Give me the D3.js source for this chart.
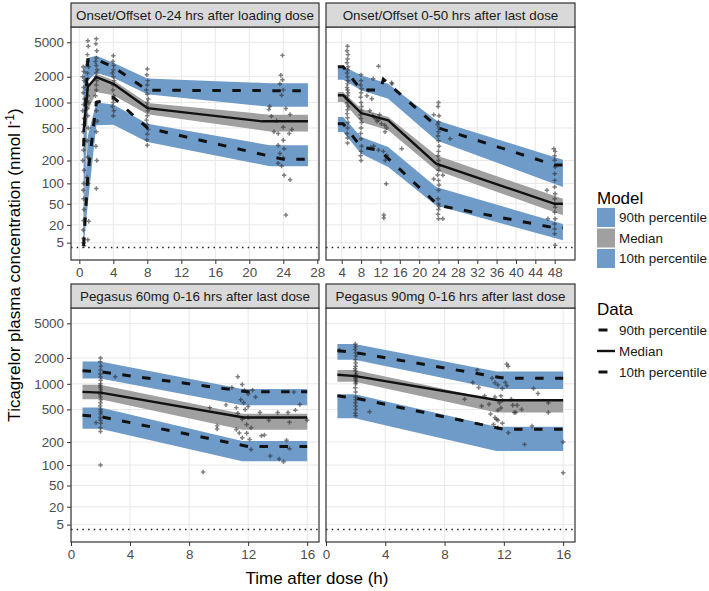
<!DOCTYPE html>
<html><head><meta charset="utf-8">
<script src="https://cdn.jsdelivr.net/npm/d3@7"></script>
<style>
body{margin:0;background:#fff;}
svg{display:block;font-family:"Liberation Sans",Arial,sans-serif;}
</style>
</head><body>
<svg id="chart" width="709" height="591"></svg>
<script>
// ---------------- DATA ----------------
const panelTitles = [
  "Onset/Offset 0-24 hrs after loading dose",
  "Onset/Offset 0-50 hrs after last dose",
  "Pegasus 60mg 0-16 hrs after last dose",
  "Pegasus 90mg 0-16 hrs after last dose"
];
const yTicks = [5, 20, 50, 100, 200, 500, 1000, 2000, 5000];
const xTicksTL = [0, 4, 8, 12, 16, 20, 24, 28];
const xTicksTR = [4, 8, 12, 16, 20, 24, 28, 32, 36, 40, 44, 48];
const xTicksBottom = [0, 4, 8, 12, 16];
const lloq = 2;
const modelLegend = ["90th percentile", "Median", "10th percentile"];
const dataLegend = ["90th percentile", "Median", "10th percentile"];

// Panel 1: loading dose
const tlModelTime = [0.5, 1, 2, 4, 8, 22.4, 26.9];
const tlP90Lo = [5, 1800, 2200, 1950, 1250, 890, 890];
const tlP90Hi = [2500, 3300, 3500, 2900, 1900, 1680, 1680];
const tlMedLo = [3, 800, 1330, 1215, 730, 455, 455];
const tlMedHi = [40, 1500, 2170, 1815, 990, 720, 720];
const tlP10Lo = [2, 50, 540, 545, 339, 169, 169];
const tlP10Hi = [20, 400, 1000, 950, 562, 309, 309];
const tlObsP90Time = [0.5, 1, 2, 4, 8, 24, 26.9];
const tlObsP90 = [300, 3150, 3150, 2600, 1390, 1375, 1375];
const tlObsMedTime = [0.5, 1, 2, 4, 8, 21.5, 26.9];
const tlObsMed = [450, 1530, 1980, 1650, 860, 600, 600];
const tlObsP10Time = [0.5, 1, 2, 4, 8, 24, 26.9];
const tlObsP10 = [3, 130, 1000, 1150, 500, 207, 207];
const tlPoints = [
  [0.45,2600],[0.5,2300],[0.4,2000],[0.55,1800],[0.5,1500],[0.45,1300],[0.6,1100],[0.5,950],[0.4,800],[0.55,650],
  [0.5,550],[0.45,450],[0.6,350],[0.5,270],[0.4,200],[0.55,150],[0.5,100],[0.45,80],[0.5,60],[0.55,40],
  [0.5,25],[0.45,15],[0.5,8],[0.5,5],[0.55,3],
  [1.0,5200],[1.05,4500],[0.95,3600],[1.0,3000],[1.1,2600],[0.95,2200],[1.0,1900],[1.05,1600],[0.9,1400],[1.0,1200],
  [1.1,1000],[0.95,850],[1.0,700],[1.05,500],[0.95,350],[1.0,220],[0.9,120],[1.05,100],[1.1,24],[1.0,7],
  [2.0,5500],[1.95,4800],[2.05,4000],[2.0,3300],[1.9,3000],[2.0,2700],[2.1,2400],[2.0,2200],[1.95,2000],[2.05,1800],
  [2.0,1600],[2.0,1400],[1.9,1200],[2.05,1000],[2.0,800],[2.1,600],[2.0,450],[1.95,300],[2.05,200],[2.0,85],
  [4.0,3500],[3.95,3000],[4.05,2700],[4.0,2400],[3.9,2200],[4.0,2000],[4.1,1800],[4.0,1600],[3.95,1400],[4.05,1200],
  [4.0,1100],[4.0,1000],[3.9,900],[4.05,800],[4.0,700],
  [8.0,2450],[7.95,2100],[8.05,1800],[8.0,1600],[7.9,1400],[8.0,1250],[8.1,1100],[8.0,1000],[7.95,900],[8.05,800],
  [8.0,700],[7.9,620],[8.0,550],[8.1,480],[8.0,420],[7.95,360],[8.0,310],
  [23.9,3530],[23.7,2075],[23.9,1845],[23.6,1657],[24.0,1400],[23.8,1215],[22.4,900],[22.3,830],[22.6,690],[24.3,850],
  [24.8,725],[23.2,610],[24.0,510],[22.9,450],[23.4,430],[24.7,430],[24.0,355],[23.4,309],[24.1,281],[23.6,245],
  [24.0,215],[23.4,185],[23.8,170],[24.1,129],[24.8,112],[24.3,32],[25.0,480]
];

// Panel 2: last dose 0-50 h
const trModelTime = [3.2, 4.3, 8, 13.6, 23.5, 49.7];
const trP90Lo = [1845, 1845, 1390, 1108, 355, 89];
const trP90Hi = [2640, 2640, 2075, 1657, 617, 205];
const trMedLo = [1014, 1014, 590, 469, 150, 31.6];
const trMedHi = [1327, 1327, 845, 675, 232, 60];
const trP10Lo = [448, 448, 243, 165, 47, 6.6];
const trP10Hi = [675, 675, 390, 294, 89, 21];
const trObsP90Time = [3.2, 4.3, 8, 12, 12.6, 24, 48, 49.7];
const trObsP90 = [2600, 2600, 1400, 1400, 1870, 500, 175, 175];
const trObsMedTime = [3.2, 4.3, 8, 13.6, 23.5, 48, 49.7];
const trObsMed = [1215, 1215, 752, 617, 182, 50, 50];
const trObsP10Time = [3.2, 4.3, 8, 11.8, 24, 48, 49.7];
const trObsP10 = [562, 562, 294, 268, 47, 17, 17];
const trPoints = [
  [5.2,4500],[5.1,4000],[5.3,3600],[5.2,3200],[5.1,2900],[5.3,2600],[5.2,2400],[5.1,2200],[5.2,2000],[5.3,1800],
  [5.2,1650],[5.1,1500],[5.2,1400],[5.3,1300],[5.2,1200],[5.1,1100],[5.2,1000],[5.3,900],[5.2,820],[5.1,740],
  [5.2,660],[5.3,580],[5.2,500],[5.1,430],[5.2,380],[5.2,330],
  [8,2100],[8,1800],[7.9,1600],[8.1,1450],[8,1300],[7.9,1150],[8,1000],[8.1,900],[8,800],[7.9,720],
  [8,650],[8.1,580],[8,500],[7.9,430],[8,370],[8.1,300],[8,260],[7.9,230],[8,200],
  [10.5,1895],[11.6,2640],[9.5,1390],[10.2,1108],[9.2,1200],[9.8,800],[10.4,700],[10.9,650],[11.3,600],[11.8,720],
  [12.2,560],[11.6,617],[13.3,500],[12.9,540],[13.2,99],[12.7,32],[12.7,28],[14.3,1700],[14.4,1650],[16.4,281],
  [12.6,260],[13,201],[11.6,270],[13.3,232],[10,290],[10.6,300],[12.96,450],
  [24,1000],[23.9,900],[24.1,700],[24,590],[23.8,550],[24.1,500],[24,450],[23.9,400],[24,350],[24.1,300],
  [24,260],[23.9,230],[24,200],[24.1,170],[24,150],[23.8,130],[24,110],[24.1,95],[24,80],[23.9,60],
  [24,50],[24.1,45],[24,40],[23.9,33],[24,27],[23,720],[24.9,129],[23,115],[24.9,27],[26.4,371],
  [47.8,281],[48.1,260],[48,230],[48,201],[48.1,165],[48,135],[48,110],[48,89],[48.1,71],[48,60],
  [48,50],[48.1,44],[48,36],[48.1,27],[48,21],[48,16],[48,11.7],[48.1,3.3],[46.4,80],[46.6,27]
];

// Panel 3: Pegasus 60 mg
const blModelTime = [0.78, 1.98, 11.6, 16];
const blP90Lo = [1150, 1150, 561, 561];
const blP90Hi = [1820, 1820, 868, 868];
const blMedLo = [660, 660, 285, 285];
const blMedHi = [973, 973, 445, 445];
const blP10Lo = [293, 293, 113, 113];
const blP10Hi = [525, 525, 206, 206];
const blObsP90Time = [0.78, 2, 12, 16];
const blObsP90 = [1418, 1380, 806, 806];
const blObsMedTime = [0.78, 2, 11.7, 16];
const blObsMed = [806, 790, 400, 400];
const blObsP10Time = [0.78, 2, 12, 16];
const blObsP10 = [426, 410, 176, 176];
const blPoints = [
  [2,2000],[1.98,1800],[2.02,1600],[2,1450],[1.98,1300],[2,1200],[2.02,1100],[2,1000],[1.98,950],[2,900],
  [2.02,850],[2,800],[1.98,750],[2,700],[2.02,650],[2,600],[1.98,550],[2,500],[2.02,470],[2,440],
  [1.98,400],[2,370],[2.02,340],[2,300],[2,270],[2,100],[1.7,347],[3.0,1208],
  [8.95,80],[9.4,525],[9.9,317],[9.9,290],[10.5,566],[10.9,905],[11.3,1208],[11.6,984],[11.2,525],[11.2,287],
  [11.4,260],[11.6,227],[11.7,600],[11.75,840],[12,760],[12,540],[12.1,216],[12.2,161],[12.3,840],[12.5,700],
  [12.8,459],[12.9,240],[13.1,245],[13.4,370],[13.5,132],[14,460],[14.1,121],[14.4,111],[14.6,211],[14.7,460],
  [14.8,350],[14.8,165],[15.1,800],[15.2,490],[15.5,570],[16,370],[11.5,650],[11.8,500],[11.3,450],[12,400],
  [11.9,330],[12.2,300],[11.6,380],[11.9,257]
];

// Panel 4: Pegasus 90 mg
const brModelTime = [0.77, 1.94, 11.5, 16];
const brP90Lo = [1905, 1905, 868, 868];
const brP90Hi = [2893, 2893, 1393, 1393];
const brMedLo = [1055, 1055, 459, 459];
const brMedHi = [1445, 1445, 643, 643];
const brP10Lo = [392, 392, 154, 154];
const brP10Hi = [757, 757, 310, 310];
const brObsP90Time = [0.77, 2, 12, 16];
const brObsP90 = [2420, 2300, 1165, 1165];
const brObsMedTime = [0.77, 2, 11.6, 16];
const brObsMed = [1275, 1230, 643, 643];
const brObsP10Time = [0.77, 2, 12, 16];
const brObsP10 = [723, 680, 288, 288];
const brPoints = [
  [1.98,2900],[2,2700],[1.96,2500],[2,2300],[2.02,2100],[1.98,1900],[2,1750],[2,1600],[1.96,1500],[2,1400],
  [2.02,1300],[2,1250],[1.98,1200],[2,1150],[2,1100],[2.02,1050],[2,1000],[1.98,900],[2,800],[2,700],
  [2.02,650],[1.98,600],[2,550],[2,500],[1.98,450],[2,420],[0.9,2450],[2.94,470],
  [9.35,660],[9.9,1035],[10.2,1445],[10.3,905],[10.5,550],[10.7,723],[11,575],[11.1,440],[11.2,1160],[11.4,1030],
  [11.5,380],[11.6,370],[11.6,970],[11.7,600],[11.8,723],[11.8,520],[11.9,640],[11.9,880],[12.1,1035],[12.2,1700],
  [12.3,1600],[12.3,261],[12.2,950],[12.5,660],[12.6,560],[12.7,459],[12.8,459],[12.9,560],[13.2,500],[13.4,187],
  [13.9,316],[14,880],[14.3,770],[15,600],[15,460],[16,200],[16,78],[11.3,330],[11.6,300],[11.4,700],
  [11.4,400],[11.6,490],[11.9,340]
];

// ---------------- DRAWING ----------------
const svg = d3.select("#chart");
svg.append("rect").attr("width", 709).attr("height", 591).attr("fill", "#fff");
const defs = svg.append("defs");

const BLUE = "#6f9bc9", GREY = "#a0a0a0";
const yDomain = [-5.3, 7500];
const smallFont = 13.4, titleFont = 17;

const zipBand = (t, lo, hi) => t.map((d, i) => ({t: d, lo: lo[i], hi: hi[i]}));
const zipLine = (t, v) => t.map((d, i) => ({t: d, v: v[i]}));

const panels = [
  {title: panelTitles[0], x0: 71, x1: 319, hy: 3, y0: 27, y1: 260, xdom: [-0.98, 28.2], xticks: xTicksTL, yAxis: true,
   mt: tlModelTime, p90: [tlP90Lo, tlP90Hi], med: [tlMedLo, tlMedHi], p10: [tlP10Lo, tlP10Hi],
   o90: [tlObsP90Time, tlObsP90], oMed: [tlObsMedTime, tlObsMed], o10: [tlObsP10Time, tlObsP10], pts: tlPoints},
  {title: panelTitles[1], x0: 326, x1: 575, hy: 3, y0: 27, y1: 260, xdom: [0.75, 52.2], xticks: xTicksTR, yAxis: false,
   mt: trModelTime, p90: [trP90Lo, trP90Hi], med: [trMedLo, trMedHi], p10: [trP10Lo, trP10Hi],
   o90: [trObsP90Time, trObsP90], oMed: [trObsMedTime, trObsMed], o10: [trObsP10Time, trObsP10], pts: trPoints},
  {title: panelTitles[2], x0: 71, x1: 319, hy: 284, y0: 308, y1: 542, xdom: [0, 16.8], xticks: xTicksBottom, yAxis: true,
   mt: blModelTime, p90: [blP90Lo, blP90Hi], med: [blMedLo, blMedHi], p10: [blP10Lo, blP10Hi],
   o90: [blObsP90Time, blObsP90], oMed: [blObsMedTime, blObsMed], o10: [blObsP10Time, blObsP10], pts: blPoints},
  {title: panelTitles[3], x0: 326, x1: 575, hy: 284, y0: 308, y1: 542, xdom: [0, 16.8], xticks: xTicksBottom, yAxis: false,
   mt: brModelTime, p90: [brP90Lo, brP90Hi], med: [brMedLo, brMedHi], p10: [brP10Lo, brP10Hi],
   o90: [brObsP90Time, brObsP90], oMed: [brObsMedTime, brObsMed], o10: [brObsP10Time, brObsP10], pts: brPoints}
];

panels.forEach((p, i) => {
  const x = d3.scaleLinear().domain(p.xdom).range([p.x0, p.x1]);
  const y = d3.scaleSymlog().constant(20).domain(yDomain).range([p.y1, p.y0]);
  const clipId = "clip" + i;
  defs.append("clipPath").attr("id", clipId).append("rect")
    .attr("x", p.x0).attr("y", p.y0).attr("width", p.x1 - p.x0).attr("height", p.y1 - p.y0);
  const g = svg.append("g");
  const body = g.append("g").attr("clip-path", `url(#${clipId})`);

  // grid
  body.selectAll(".hg").data(yTicks).join("line")
    .attr("x1", p.x0).attr("x2", p.x1).attr("y1", d => y(d)).attr("y2", d => y(d))
    .attr("stroke", "#e8e8e8").attr("stroke-width", 1);
  body.selectAll(".vg").data(p.xticks).join("line")
    .attr("y1", p.y0).attr("y2", p.y1).attr("x1", d => x(d)).attr("x2", d => x(d))
    .attr("stroke", "#e8e8e8").attr("stroke-width", 1);

  // model bands
  const area = d3.area().x(d => x(d.t)).y0(d => y(d.lo)).y1(d => y(d.hi));
  body.append("path").datum(zipBand(p.mt, p.p90[0], p.p90[1])).attr("d", area).attr("fill", BLUE);
  body.append("path").datum(zipBand(p.mt, p.p10[0], p.p10[1])).attr("d", area).attr("fill", BLUE);
  body.append("path").datum(zipBand(p.mt, p.med[0], p.med[1])).attr("d", area).attr("fill", GREY);

  // LLOQ dotted line
  body.append("line").attr("x1", p.x0).attr("x2", p.x1).attr("y1", y(lloq)).attr("y2", y(lloq))
    .attr("stroke", "#222").attr("stroke-width", 1.5).attr("stroke-dasharray", "1.5,4.2");

  // observed points
  const sym = d3.symbol().type(d3.symbolCross).size(11);
  body.selectAll(".pt").data(p.pts).join("path")
    .attr("transform", d => `translate(${x(d[0])},${y(d[1])})`)
    .attr("d", sym).attr("fill", "#2a2a2a").attr("fill-opacity", 0.6);

  // observed percentile lines
  const line = d3.line().x(d => x(d.t)).y(d => y(d.v));
  body.append("path").datum(zipLine(p.o90[0], p.o90[1])).attr("d", line)
    .attr("fill", "none").attr("stroke", "#111").attr("stroke-width", 3).attr("stroke-dasharray", "8.5,11.5");
  body.append("path").datum(zipLine(p.o10[0], p.o10[1])).attr("d", line)
    .attr("fill", "none").attr("stroke", "#111").attr("stroke-width", 3).attr("stroke-dasharray", "8.5,11.5");
  body.append("path").datum(zipLine(p.oMed[0], p.oMed[1])).attr("d", line)
    .attr("fill", "none").attr("stroke", "#111").attr("stroke-width", 2.4);

  // panel border
  g.append("rect").attr("x", p.x0).attr("y", p.y0).attr("width", p.x1 - p.x0).attr("height", p.y1 - p.y0)
    .attr("fill", "none").attr("stroke", "#333").attr("stroke-width", 1.2);
  // strip
  g.append("rect").attr("x", p.x0).attr("y", p.hy).attr("width", p.x1 - p.x0).attr("height", p.y0 - p.hy)
    .attr("fill", "#d9d9d9").attr("stroke", "#333").attr("stroke-width", 1.2);
  g.append("text").attr("x", (p.x0 + p.x1) / 2).attr("y", (p.hy + p.y0) / 2).attr("dy", "0.35em")
    .attr("text-anchor", "middle").attr("font-size", smallFont).attr("fill", "#1a1a1a").text(p.title);

  // x axis
  const xa = g.append("g").attr("transform", `translate(0,${p.y1})`)
    .call(d3.axisBottom(x).tickValues(p.xticks).tickSize(4).tickPadding(3).tickFormat(d3.format("d")));
  xa.select(".domain").remove();
  xa.selectAll("line").attr("stroke", "#333");
  xa.selectAll("text").attr("font-size", smallFont).attr("fill", "#4d4d4d").attr("font-family", null);

  // y axis
  if (p.yAxis) {
    const ya = g.append("g").attr("transform", `translate(${p.x0},0)`)
      .call(d3.axisLeft(y).tickValues(yTicks).tickSize(4).tickPadding(3).tickFormat(d3.format("d")));
    ya.select(".domain").remove();
    ya.selectAll("line").attr("stroke", "#333");
    ya.selectAll("text").attr("font-size", smallFont).attr("fill", "#4d4d4d").attr("font-family", null);
  }
});

// axis titles
svg.append("text").attr("x", 317).attr("y", 584).attr("text-anchor", "middle")
  .attr("font-size", titleFont).attr("fill", "#000").text("Time after dose (h)");
const yt = svg.append("text").attr("transform", "translate(20,265) rotate(-90)").attr("text-anchor", "middle")
  .attr("font-size", titleFont).attr("fill", "#000");
yt.append("tspan").text("Ticagrelor plasma concentration (nmol l");
yt.append("tspan").attr("font-size", titleFont * 0.7).attr("dy", -6).text("-1");
yt.append("tspan").attr("dy", 6).text(")");

// legend: Model
const lg = svg.append("g");
lg.append("text").attr("x", 597).attr("y", 204).attr("font-size", titleFont).attr("fill", "#000").text("Model");
const keyFill = [BLUE, GREY, BLUE];
modelLegend.forEach((lab, i) => {
  const cy = 217.5 + i * 20.5;
  lg.append("rect").attr("x", 597).attr("y", cy - 9.5).attr("width", 18).attr("height", 19).attr("fill", keyFill[i]);
  lg.append("text").attr("x", 619).attr("y", cy).attr("dy", "0.35em").attr("font-size", smallFont)
    .attr("fill", "#1a1a1a").text(lab);
});
lg.append("text").attr("x", 597).attr("y", 315).attr("font-size", titleFont).attr("fill", "#000").text("Data");
dataLegend.forEach((lab, i) => {
  const cy = 330 + i * 21;
  if (i === 1) {
    lg.append("line").attr("x1", 597).attr("x2", 615).attr("y1", cy).attr("y2", cy)
      .attr("stroke", "#111").attr("stroke-width", 2.4);
  } else {
    lg.append("line").attr("x1", 598.5).attr("x2", 607.5).attr("y1", cy).attr("y2", cy)
      .attr("stroke", "#111").attr("stroke-width", 3);
  }
  lg.append("text").attr("x", 619).attr("y", cy).attr("dy", "0.35em").attr("font-size", smallFont)
    .attr("fill", "#1a1a1a").text(lab);
});
</script>
</body></html>
